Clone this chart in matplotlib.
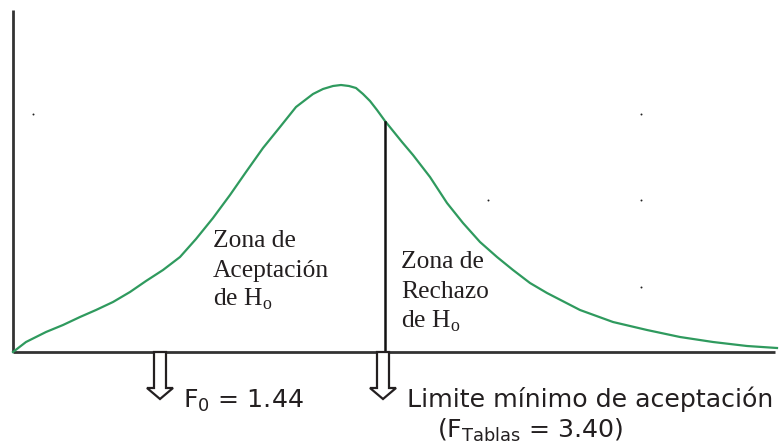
"""Schematic F distribution with acceptance / rejection zones."""

from __future__ import annotations

import matplotlib

matplotlib.use("Agg")

import matplotlib.pyplot as plt
from matplotlib.patches import Polygon

CURVE_X = [0, 13, 33, 50, 67, 83, 100, 117, 133, 150, 167, 183, 200, 217, 233, 250, 267,
           283, 300, 310, 320, 328, 336, 343, 350, 357, 364, 372, 389, 400, 417, 434, 450,
           467, 484, 500, 517, 534, 567, 600, 634, 667, 700, 734, 764]
CURVE_Y = [0, 10, 20, 27, 35, 42, 50, 60, 71, 82, 95, 113, 134, 157, 180, 204, 225,
           245, 258, 263, 266, 267, 266, 264, 258, 251, 242, 231, 210, 197, 175, 149, 129,
           110, 95, 82, 69, 59, 42, 30, 22, 15, 10, 6, 4]

CRITICAL_X = 372
CRITICAL_Y = 230
ARROW_X = [147, 370]
AXIS_X_MAX = 762
AXIS_Y_MAX = 342

STRAY_DOTS_X = [20, 628, 475, 628, 628]
STRAY_DOTS_Y = [238, 238, 152, 152, 65]

ACCEPT_LINES = ["Zona de", "Aceptación", "de H$_\\mathregular{o}$"]
REJECT_LINES = ["Zona de", "Rechazo", "de H$_\\mathregular{o}$"]
F0_LABEL = "F$_\\mathregular{0}$ = 1.44"
LIMIT_LABEL = "Limite mínimo de aceptación"
FTABLAS_LABEL = "(F$_\\mathregular{Tablas}$ = 3.40)"

CURVE_COLOR = "#2f9a5e"
INK = "#231f20"


def _down_arrow(ax: plt.Axes, cx: float) -> None:
    shaft, head, shaft_len, tip = 6, 13, 36, 47
    pts = [
        (cx - shaft, 0), (cx + shaft, 0), (cx + shaft, -shaft_len), (cx + head, -shaft_len),
        (cx, -tip), (cx - head, -shaft_len), (cx - shaft, -shaft_len),
    ]
    ax.add_patch(Polygon(pts, closed=True, facecolor="white", edgecolor=INK, linewidth=1.6,
                         joinstyle="miter", zorder=3))


def main() -> None:
    fig = plt.figure(figsize=(7.83, 4.45), dpi=100)
    ax = fig.add_axes([0, 0, 1, 1])
    ax.set_xlim(-13, 770)
    ax.set_ylim(-93, 352)
    ax.axis("off")

    # axes of the sketch
    ax.plot([0, 0], [0, AXIS_Y_MAX], color="#333333", linewidth=2.0, solid_capstyle="butt")
    ax.plot([0, AXIS_X_MAX], [0, 0], color="#333333", linewidth=2.0, solid_capstyle="butt")

    ax.plot(CURVE_X, CURVE_Y, color=CURVE_COLOR, linewidth=1.6, solid_joinstyle="round")
    ax.plot([CRITICAL_X, CRITICAL_X], [0, CRITICAL_Y], color="#111111", linewidth=1.8)
    ax.scatter(STRAY_DOTS_X, STRAY_DOTS_Y, s=2, color="#222222", linewidths=0)

    for cx in ARROW_X:
        _down_arrow(ax, cx)

    serif = dict(family=["Liberation Serif", "DejaVu Serif"], fontsize=18.4, color=INK,
                 va="baseline", ha="left")
    for i, line in enumerate(ACCEPT_LINES):
        ax.text(200, 105 - 29.5 * i, line, **serif)
    for i, line in enumerate(REJECT_LINES):
        ax.text(388, 84 - 30 * i, line, **serif)

    sans = dict(family=["DejaVu Sans"], fontsize=18.2, color=INK, va="baseline", ha="left")
    ax.text(170, -56, F0_LABEL, **sans)
    ax.text(394, -55, LIMIT_LABEL, **sans)
    ax.text(424, -86, FTABLAS_LABEL, **sans)

    fig.savefig("out.png", dpi=100)
    plt.close(fig)


if __name__ == "__main__":
    main()
